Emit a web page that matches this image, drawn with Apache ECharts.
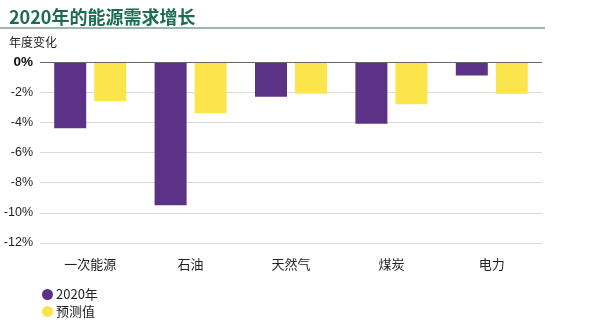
<!DOCTYPE html>
<html>
<head>
<meta charset="utf-8">
<script src="https://cdn.jsdelivr.net/npm/echarts@6/dist/echarts.min.js"></script>
<style>
  html, body { margin: 0; padding: 0; background: #fff; }
  #chart { width: 600px; height: 329px; }
</style>
</head>
<body>
<div id="chart"></div>
<script>
// Annual change in energy demand, 2020 vs. projection (%)
const categories = ['一次能源', '石油', '天然气', '煤炭', '电力'];
const actual2020 = [-4.4, -9.5, -2.3, -4.1, -0.9];
const projected = [-2.6, -3.4, -2.1, -2.8, -2.1];
const seriesNames = ['2020年', '预测值'];
const yTicks = { min: -12, max: 0, step: 2 };

const FONT = '"Noto Sans CJK SC", "Liberation Sans", sans-serif';
const chart = echarts.init(document.getElementById('chart'), null, { renderer: 'canvas' });

chart.setOption({
  animation: false,
  textStyle: { fontFamily: FONT },
  title: {
    text: '2020年的能源需求增长',
    left: 4, top: 3,
    textStyle: { fontFamily: FONT, fontSize: 18, fontWeight: 'bold', color: '#1d6b50' },
    subtext: '年度变化',
    itemGap: 10,
    subtextStyle: { fontFamily: FONT, fontSize: 12, color: '#222' }
  },
  graphic: [{
    type: 'rect',
    shape: { x: 0, y: 27, width: 545, height: 2 },
    style: { fill: '#9db5ad' },
    silent: true
  }],
  legend: {
    orient: 'vertical',
    left: 37, top: 283,
    icon: 'circle',
    itemWidth: 11, itemHeight: 11,
    itemGap: 4,
    textStyle: { fontFamily: FONT, fontSize: 13, color: '#222', padding: [0, 0, 0, -2] },
    data: seriesNames
  },
  grid: { left: 40, right: 58, top: 62, bottom: 86, containLabel: false },
  xAxis: {
    type: 'category',
    data: categories,
    position: 'bottom',
    axisLine: { show: false },
    axisTick: { show: false },
    axisLabel: { fontFamily: FONT, fontSize: 13, color: '#222', margin: 15 }
  },
  yAxis: {
    type: 'value',
    min: yTicks.min, max: yTicks.max, interval: yTicks.step,
    axisLine: { show: false },
    axisTick: { show: false },
    splitLine: { lineStyle: { color: '#d9d9d9', width: 1 } },
    axisLabel: {
      margin: 7,
      fontFamily: '"Liberation Sans", Arial, sans-serif',
      fontSize: 12.5,
      color: '#222',
      formatter: v => v === 0 ? '{b|0%}' : v + '%',
      rich: { b: { fontWeight: 'bold', fontSize: 13.5, color: '#111', fontFamily: '"Liberation Sans", Arial, sans-serif' } }
    }
  },
  series: [
    {
      name: seriesNames[0], type: 'bar', data: actual2020,
      barWidth: 32, barGap: '25%',
      itemStyle: { color: '#5c3287' },
      markLine: {
        silent: true, symbol: 'none', label: { show: false },
        lineStyle: { color: '#666', width: 1, type: 'solid' },
        data: [{ yAxis: 0 }]
      }
    },
    {
      name: seriesNames[1], type: 'bar', data: projected,
      barWidth: 32,
      itemStyle: { color: '#fce54c' }
    }
  ]
});
</script>
</body>
</html>
